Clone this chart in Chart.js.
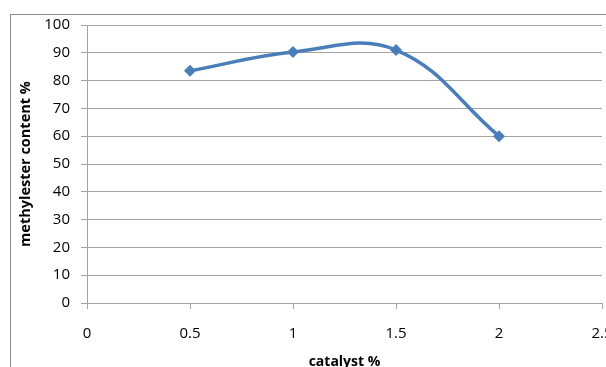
<!DOCTYPE html>
<html>
<head>
<meta charset="utf-8">
<script src="https://cdn.jsdelivr.net/npm/chart.js@4/dist/chart.umd.min.js"></script>
<style>
  html, body { margin: 0; padding: 0; background: #ffffff; overflow: hidden; }
  #wrap { position: relative; width: 606px; height: 367px; overflow: hidden; }
  #c { position: absolute; left: 0; top: 0; }
</style>
</head>
<body>
<div id="wrap"><canvas id="c" width="640" height="390"></canvas></div>
<script>
// catalyst loading (%) and measured methyl ester content (%)
const catalyst = [0.5, 1, 1.5, 2];
const methylester = [83.5, 90.3, 91, 60];
const xTicks = [0, 0.5, 1, 1.5, 2, 2.5];
const yTicks = [0, 10, 20, 30, 40, 50, 60, 70, 80, 90, 100];

const FONT = "'Open Sans', 'Liberation Sans', sans-serif";
const GRID = '#a3a3a3';

// outer frame of the chart object (runs past the right and bottom edges)
const framePlugin = {
  id: 'frame',
  beforeDraw(chart) {
    const ctx = chart.ctx;
    ctx.save();
    ctx.strokeStyle = '#8c8c8c';
    ctx.lineWidth = 1;
    ctx.strokeRect(10.5, 14.5, 700, 500);
    ctx.restore();
  }
};

new Chart(document.getElementById('c'), {
  type: 'line',
  data: {
    datasets: [{
      data: catalyst.map((x, i) => ({ x: x, y: methylester[i] })),
      borderColor: '#4a7ebb',
      backgroundColor: '#4a7ebb',
      borderWidth: 3.5,
      tension: 0.4,
      pointStyle: 'rectRot',
      pointRadius: 6,
      pointHoverRadius: 6,
      pointBorderWidth: 0,
      fill: false
    }]
  },
  options: {
    responsive: false,
    animation: false,
    events: [],
    layout: { padding: { left: 12, top: 25, right: 38, bottom: 20 } },
    plugins: { legend: { display: false }, tooltip: { enabled: false } },
    scales: {
      x: {
        type: 'linear',
        min: 0,
        max: 2.5,
        afterBuildTicks(scale) { scale.ticks = xTicks.map(v => ({ value: v })); },
        ticks: {
          color: '#000000',
          font: { family: FONT, size: 15 },
          padding: 16,
          maxRotation: 0,
          autoSkip: false,
          callback: v => String(v)
        },
        grid: { drawOnChartArea: false, color: GRID, tickLength: 6 },
        border: { color: GRID },
        title: {
          display: true,
          text: 'catalyst %',
          color: '#000000',
          font: { family: FONT, size: 14, weight: 'bold' },
          padding: { top: 4, bottom: 0 }
        },
        afterFit(scale) { scale.height = 67; }
      },
      y: {
        min: 0,
        max: 100,
        afterBuildTicks(scale) { scale.ticks = yTicks.map(v => ({ value: v })); },
        ticks: {
          color: '#000000',
          font: { family: FONT, size: 15 },
          padding: 11
        },
        grid: { color: GRID, tickLength: 6 },
        border: { color: GRID },
        title: {
          display: true,
          text: 'methylester content %',
          color: '#000000',
          font: { family: FONT, size: 14.5, weight: 'bold' },
          padding: { top: 5, bottom: 0 }
        },
        afterFit(scale) { scale.width = 75; }
      }
    }
  },
  plugins: [framePlugin]
});
</script>
</body>
</html>
